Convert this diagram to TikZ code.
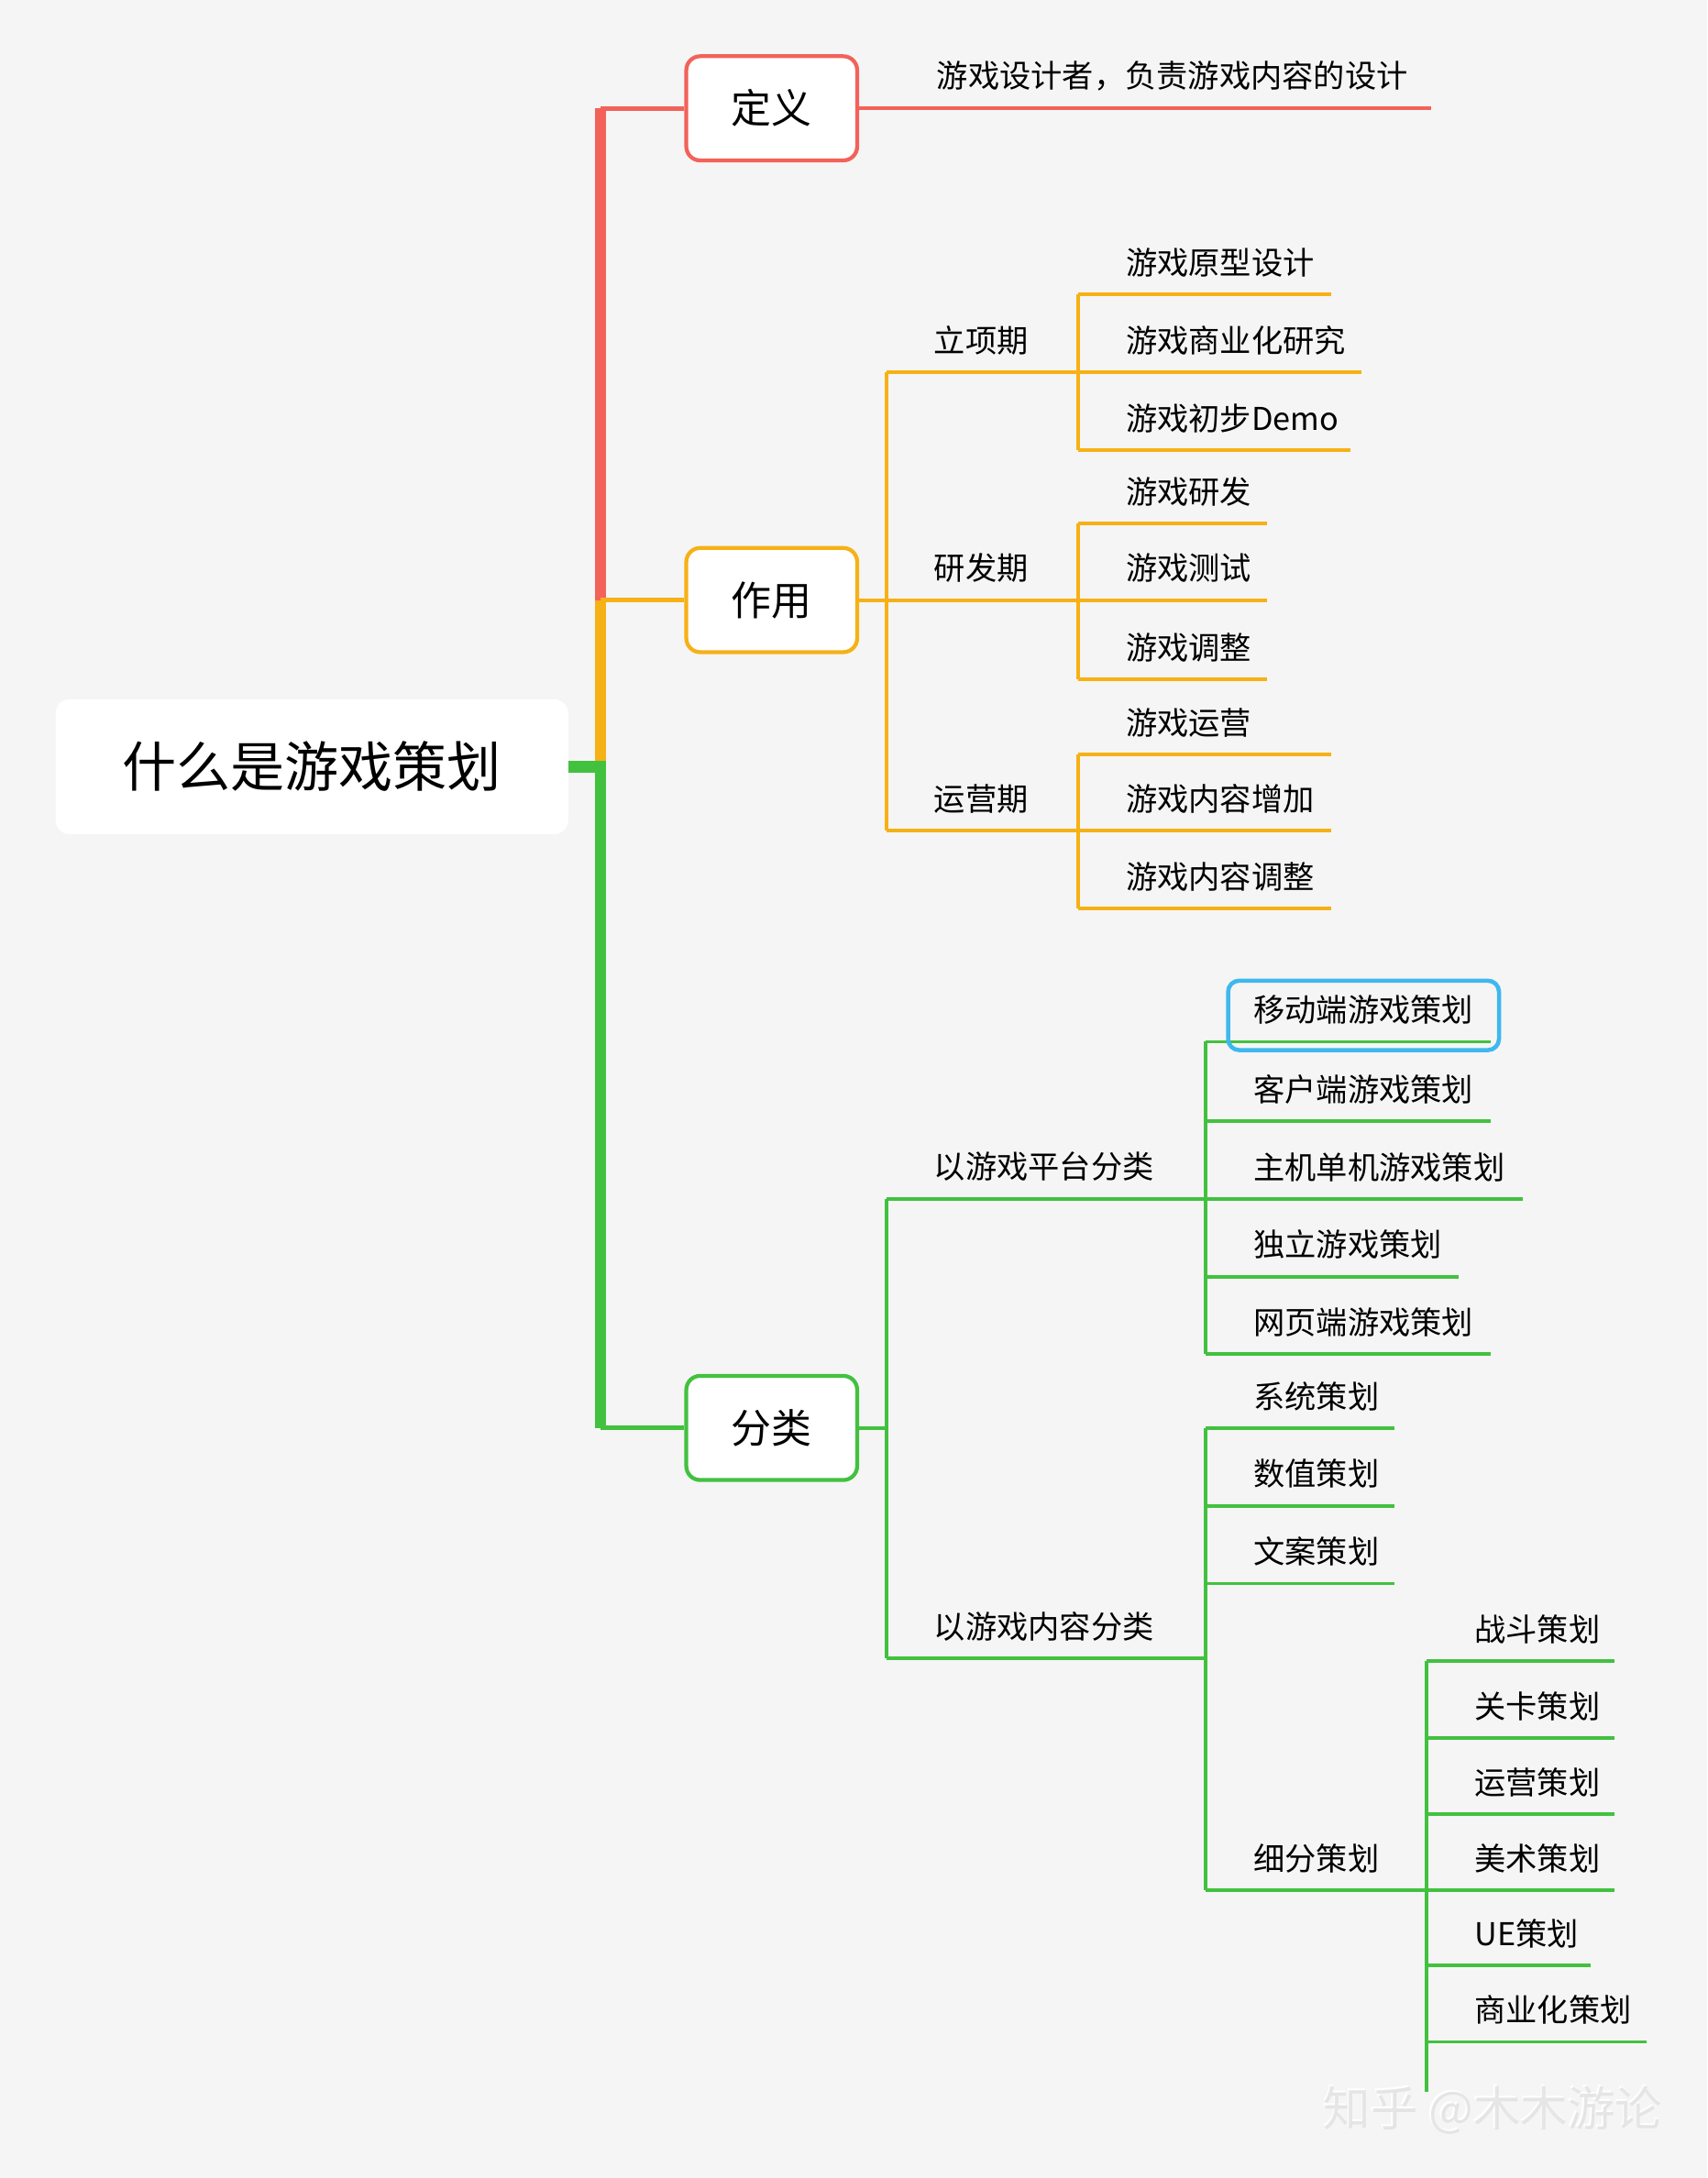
\documentclass[tikz,border=0pt]{standalone}
\usepackage{fontspec}
\setmainfont{Noto Sans CJK SC}
\begin{document}
\begin{tikzpicture}[x=0.5pt,y=-0.5pt,
  box/.style={draw,line width=1.4pt,rounded corners=5pt,fill=white,minimum width=61.5pt,minimum height=37.5pt,font=\fontsize{14.5}{16}\selectfont,inner sep=0},
  lt/.style={anchor=south west,font=\fontsize{11.3}{13}\selectfont,inner sep=0,yshift=6pt}]
\definecolor{red1}{HTML}{F2625A}
\definecolor{or1}{HTML}{F6B116}
\definecolor{gr1}{HTML}{42C13F}
\definecolor{bl1}{HTML}{3EB8EE}
\useasboundingbox[fill={rgb,255:red,245;green,245;blue,245}] (0,0) rectangle (1229,1568);
\node[fill=white,rounded corners=5pt,minimum width=184.5pt,minimum height=48.5pt,font=\fontsize{19.5}{22}\selectfont,inner sep=0] (root) at (224.5,552) {什么是游戏策划};
% trunk
\coordinate (t0) at (432,552);
\draw[red1,line width=4pt] (432,78) -- (432,434);
\draw[or1,line width=4pt] (432,432) -- (432,554);
\draw[gr1,line width=4pt] (root.east) -- (t0) -- (432,1028);
\node[box,draw=red1] (dy) at (555.5,78) {定义};
\node[box,draw=or1] (zy) at (555.5,432) {作用};
\node[box,draw=gr1] (fl) at (555.5,1028) {分类};
\draw[red1,line width=1.6pt] (432,78) -- (dy.west);
\draw[or1,line width=1.6pt] (432,432) -- (zy.west);
\draw[gr1,line width=1.6pt] (432,1028) -- (fl.west);
% definition
\coordinate (de) at (1030,78);
\draw[red1,line width=1.3pt] (dy.east) -- (de);
\node[lt] (dyt) at (674,78) {游戏设计者，负责游戏内容的设计};
\newcommand\lf[6]{\coordinate (#1a) at (#2,#3);\coordinate (#1b) at (#4,#3);\draw[#6,line width=1.3pt] (#1a) -- (#1b);\node[lt] (#1) at (#2+34,#3) {#5};}
% 作用
\coordinate (zv1) at (638,268);\coordinate (zv2) at (638,598);
\draw[or1,line width=1.3pt] (zy.east) -- (638,432);
\draw[or1,line width=1.3pt] (zv1) -- (zv2);
\lf{a1}{638}{268}{776}{立项期}{or1}
\lf{a2}{638}{432}{776}{研发期}{or1}
\lf{a3}{638}{598}{776}{运营期}{or1}
\draw[or1,line width=1.3pt] (776,212) -- (776,324) (776,377) -- (776,489) (776,543) -- (776,654);
\lf{b1}{776}{212}{958}{游戏原型设计}{or1}
\lf{b2}{776}{268}{980}{游戏商业化研究}{or1}
\lf{b3}{776}{324}{972}{游戏初步Demo}{or1}
\lf{b4}{776}{377}{912}{游戏研发}{or1}
\lf{b5}{776}{432}{912}{游戏测试}{or1}
\lf{b6}{776}{489}{912}{游戏调整}{or1}
\lf{b7}{776}{543}{958}{游戏运营}{or1}
\lf{b8}{776}{598}{958}{游戏内容增加}{or1}
\lf{b9}{776}{654}{958}{游戏内容调整}{or1}
% 分类
\draw[gr1,line width=1.3pt] (fl.east) -- (638,1028);
\draw[gr1,line width=1.3pt] (638,863) -- (638,1194);
\lf{c1}{638}{863}{868}{以游戏平台分类}{gr1}
\lf{c2}{638}{1194}{868}{以游戏内容分类}{gr1}
\draw[gr1,line width=1.3pt] (868,750) -- (868,975) (868,1028) -- (868,1361) (1027,1196) -- (1027,1506);
\lf{d1}{868}{750}{1073}{移动端游戏策划}{gr1}
\lf{d2}{868}{807}{1073}{客户端游戏策划}{gr1}
\lf{d3}{868}{863}{1096}{主机单机游戏策划}{gr1}
\lf{d4}{868}{919}{1050}{独立游戏策划}{gr1}
\lf{d5}{868}{975}{1073}{网页端游戏策划}{gr1}
\draw[bl1,line width=1.5pt,rounded corners=4pt] (884,706) rectangle (1079,756);
\lf{e1}{868}{1028}{1004}{系统策划}{gr1}
\lf{e2}{868}{1084}{1004}{数值策划}{gr1}
\lf{e3}{868}{1140}{1004}{文案策划}{gr1}
\lf{e4}{868}{1361}{1027}{细分策划}{gr1}
\lf{f1}{1027}{1196}{1162}{战斗策划}{gr1}
\lf{f2}{1027}{1251}{1162}{关卡策划}{gr1}
\lf{f3}{1027}{1306}{1162}{运营策划}{gr1}
\lf{f4}{1027}{1361}{1162}{美术策划}{gr1}
\lf{f5}{1027}{1415}{1145}{UE策划}{gr1}
\lf{f6}{1027}{1470}{1185}{商业化策划}{gr1}
\node[anchor=east,text=white,font=\fontsize{17}{20}\selectfont,inner sep=0] (wm) at (1196,1518) {知乎 @木木游论};
\node[anchor=east,text=black!12,font=\fontsize{17}{20}\selectfont,inner sep=0,opacity=0.8] (wm2) at (1197,1519) {知乎 @木木游论};
\end{tikzpicture}
\end{document}
